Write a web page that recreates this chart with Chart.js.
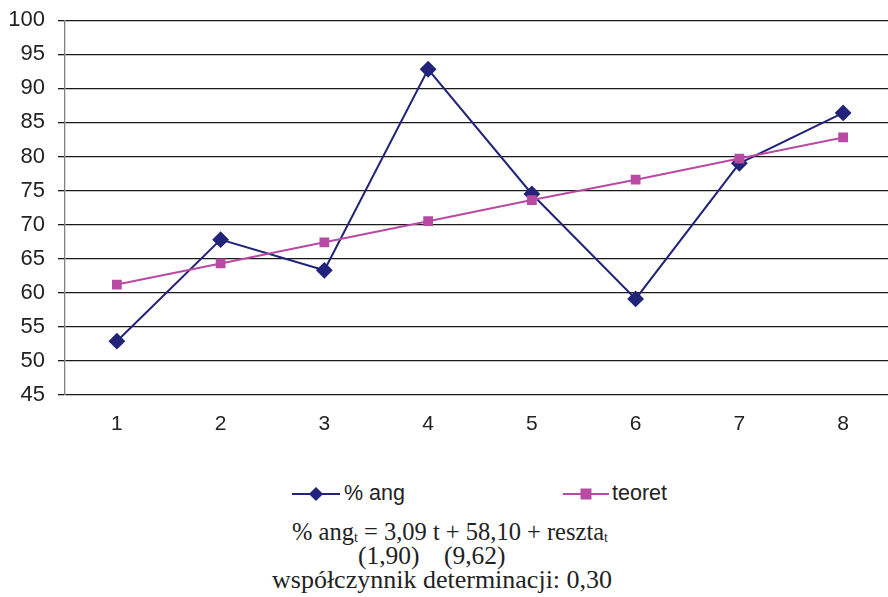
<!DOCTYPE html>
<html lang="pl">
<head>
<meta charset="UTF-8">
<title>% ang</title>
<script src="https://cdn.jsdelivr.net/npm/chart.js"></script>
<style>
  html, body { margin: 0; padding: 0; background: #fff; overflow: hidden; width: 888px; height: 597px; }
  #c { position: absolute; left: 0; top: -6px; }
  .legend { position: absolute; top: 481px; font: 21.5px "Liberation Sans", Arial, sans-serif; color: #222; display: flex; align-items: center; }
  .key { position: relative; width: 48px; height: 20px; margin-right: 4px; }
  .key .ln { position: absolute; left: 0; right: 0; top: 9px; height: 2px; }
  .key .mk { position: absolute; left: 50%; top: 50%; }
  .note { position: absolute; font: 25.5px "Liberation Serif", "Times New Roman", serif; color: #222; line-height: 24px; white-space: nowrap; }
  .note sub { font-size: 14px; position: relative; top: 2px; vertical-align: baseline; line-height: 0; }
</style>
</head>
<body>
<canvas id="c" width="904" height="446"></canvas>

<div class="legend" style="left:292px">
  <div class="key"><div class="ln" style="background:#22237a"></div>
    <div class="mk" style="width:10px;height:10px;background:#22237a;transform:translate(-50%,-50%) rotate(45deg)"></div></div>
  % ang
</div>
<div class="legend" style="left:563px">
  <div class="key" style="width:46px;margin-right:3px"><div class="ln" style="background:#b94aa3"></div>
    <div class="mk" style="width:11px;height:11px;background:#b94aa3;transform:translate(-50%,-50%)"></div></div>
  teoret
</div>

<div class="note" style="left:292px; top:520px; font-size:24.5px">% ang<sub>t</sub> = 3,09 t + 58,10 + reszta<sub>t</sub></div>
<div class="note" style="left:358px; top:544px">(1,90)</div>
<div class="note" style="left:444px; top:544px">(9,62)</div>
<div class="note" style="left:272px; top:568px; font-size:26px">współczynnik determinacji: 0,30</div>

<script>
  // dane
  const labels = ['1', '2', '3', '4', '5', '6', '7', '8'];
  const angValues = [52.9, 67.8, 63.3, 92.8, 74.5, 59.1, 79.0, 86.4];
  const teoretValues = [61.2, 64.3, 67.4, 70.5, 73.6, 76.6, 79.7, 82.8];
  const yMin = 45, yMax = 100, yStep = 5;

  const navy = '#22237a';
  const magenta = '#b94aa3';

  new Chart(document.getElementById('c'), {
    type: 'line',
    data: {
      labels: labels,
      datasets: [
        {
          label: 'teoret',
          data: teoretValues,
          borderColor: magenta,
          backgroundColor: magenta,
          borderWidth: 2,
          pointStyle: 'rect',
          pointRadius: 5.5,
          pointHoverRadius: 5.5,
          tension: 0
        },
        {
          label: '% ang',
          data: angValues,
          borderColor: navy,
          backgroundColor: navy,
          borderWidth: 2,
          pointStyle: 'rectRot',
          pointRadius: 7,
          pointHoverRadius: 7,
          tension: 0
        }
      ]
    },
    options: {
      responsive: false,
      animation: false,
      layout: { padding: { top: 2, right: 0, left: 0, bottom: 0 } },
      plugins: { legend: { display: false }, tooltip: { enabled: false } },
      scales: {
        x: {
          offset: true,
          grid: { display: false, drawTicks: false },
          border: { display: false },
          ticks: { color: '#222', padding: 17, font: { family: '"Liberation Sans", Arial, sans-serif', size: 21 } },
          afterFit: (s) => { s.height = 45; }
        },
        y: {
          min: yMin,
          max: yMax,
          ticks: { stepSize: yStep, color: '#222', padding: 13, font: { family: '"Liberation Sans", Arial, sans-serif', size: 22 } },
          grid: { color: '#1a1a1a', lineWidth: 1.3, tickLength: 7, tickColor: '#1a1a1a' },
          border: { display: true, color: '#808080', width: 1.3 },
          afterFit: (s) => { s.width = 65; }
        }
      }
    }
  });
</script>
</body>
</html>
